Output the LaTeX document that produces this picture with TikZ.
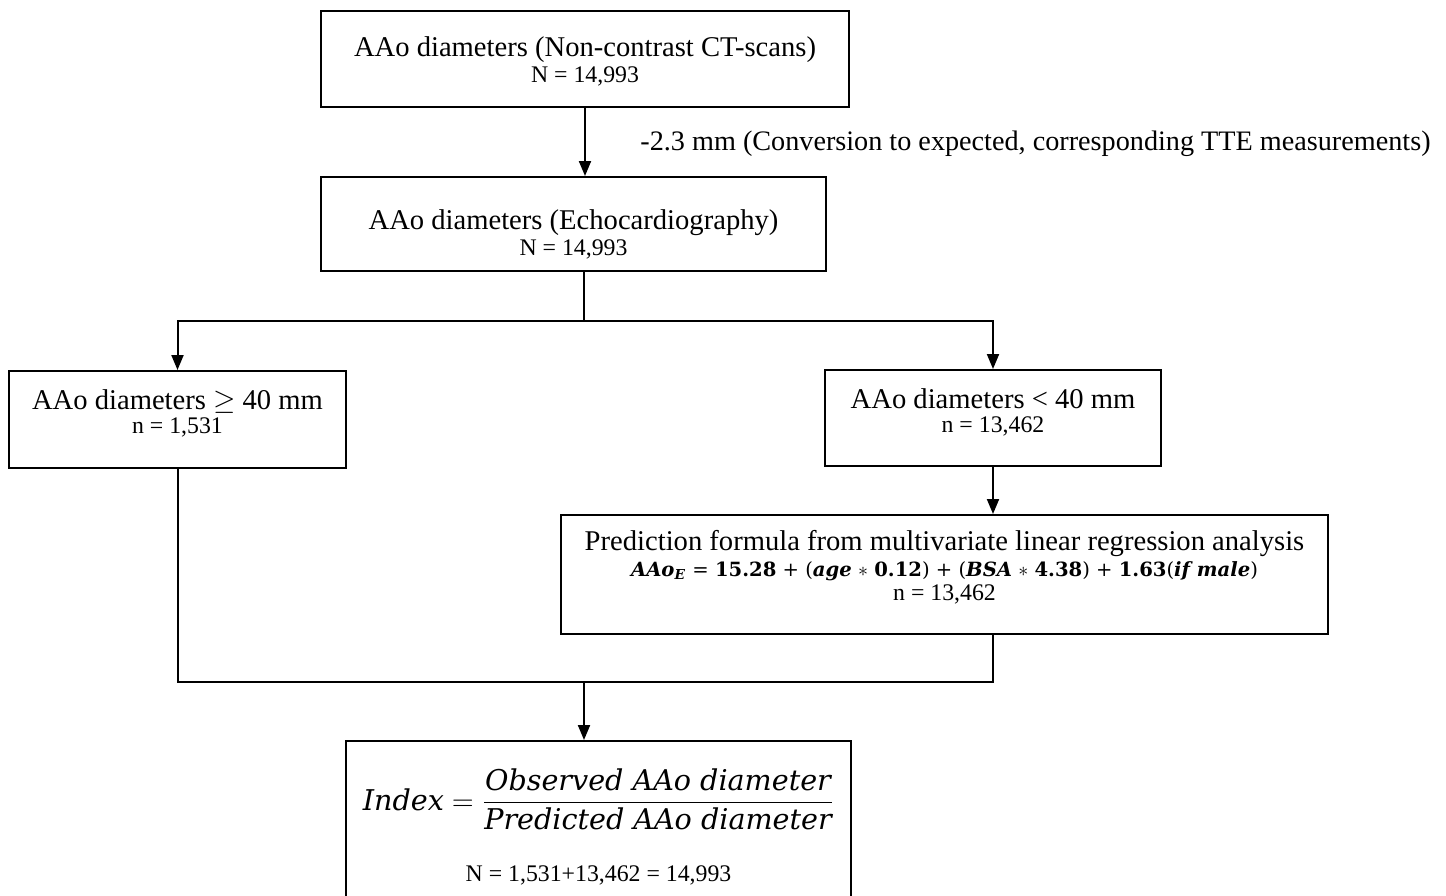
\documentclass[tikz,border=0pt]{standalone}
\usepackage{fontspec}
\setmainfont{Liberation Serif}
\newfontfamily\dvserif{DejaVu Serif}
\usetikzlibrary{arrows.meta,positioning,calc}
\newcommand{\mainsz}{\fontsize{14.3pt}{13pt}\selectfont}
\newcommand{\subsz}{\fontsize{11.9pt}{13pt}\selectfont}
\newcommand{\fbi}[1]{\textbf{\textit{#1}}}
\newcommand{\fbu}[1]{\textbf{#1}}

\begin{document}
\begin{tikzpicture}[x=0.5pt,y=-0.5pt,
  box/.style={draw,line width=1pt,anchor=north west,align=flush center,inner xsep=0pt,inner ysep=0pt,font=\mainsz},
  ar/.style={-{Triangle[length=7.5pt,width=6pt]},line width=1pt},
  ln/.style={line width=1pt},
  lab/.style={font=\fontsize{14.1pt}{13pt}\selectfont,anchor=base west,inner sep=0pt}]
\useasboundingbox (0,0) rectangle (1446,895);
\clip (0,0) rectangle (1446,895);

\node[box,text width=264pt,text height=22.5pt,text depth=25.5pt] (ct) at (320,10)
  {AAo diameters (Non-contrast CT-scans)\\ {\subsz N = 14,993}};
\node[box,text width=252.5pt,text height=26pt,text depth=21pt] (echo) at (320,176)
  {AAo diameters (Echocardiography)\\ {\subsz N = 14,993}};
\node[lab] (conv) at (640,150)
  {-2.3 mm (Conversion to expected, corresponding TTE measurements)};

\node[box,text width=168.5pt,text height=19pt,text depth=29.5pt] (ge) at (8,370)
  {AAo diameters $\geq$ 40 mm\\[-1pt] {\subsz n = 1,531}};
\node[box,text width=168pt,text height=19pt,text depth=29pt] (lt) at (824,369)
  {AAo diameters < 40 mm\\[-1pt] {\subsz n = 13,462}};

\node[box,text width=383.5pt,text height=17.5pt,text depth=42pt] (pred) at (560,514)
  {Prediction formula from multivariate linear regression analysis\\[0pt]
   {\dvserif\fontsize{9.8pt}{13pt}\selectfont \fbi{AAo}\textsubscript{\fbi{E}} = \fbu{15.28} + (\fbi{age} $\ast$ \fbu{0.12}) + (\fbi{BSA} $\ast$ \fbu{4.38}) + \fbu{1.63}(\fbi{if male})}\\[-1pt]
   {\subsz n = 13,462}};

\node[box,text width=252.5pt,text height=34.5pt,text depth=62pt] (idx) at (345,740)
  {$\displaystyle\mbox{\dvserif\itshape Index} = \frac{\mbox{\dvserif\itshape Observed AAo diameter}}{\mbox{\dvserif\itshape Predicted AAo diameter}}$\\[17pt]
   {\subsz N = 1,531+13,462 = 14,993}};

\coordinate (split) at (584,321);
\coordinate (merge) at (584,682);

\draw[ar] (ct.south) -- (ct.south |- echo.north);
\draw[ln] (echo.south -| split) -- (split);
\draw[ar] (split) -| (ge.north);
\draw[ar] (split) -| (lt.north);
\draw[ar] (lt.south) -- (lt.south |- pred.north);
\draw[ln] (ge.south) |- (merge);
\draw[ln] (lt.south |- pred.south) |- (merge);
\draw[ar] (merge) -- (merge |- idx.north);
\end{tikzpicture}
\end{document}
